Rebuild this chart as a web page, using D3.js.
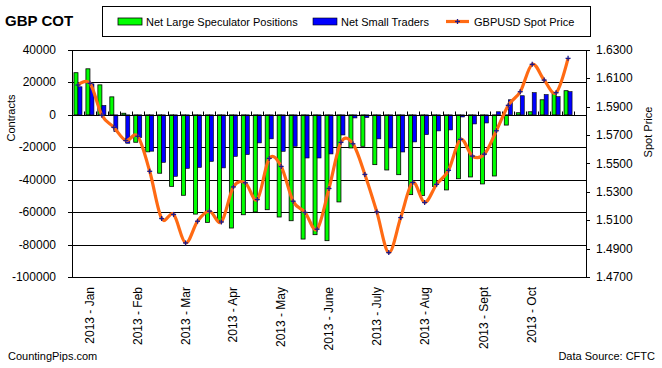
<!DOCTYPE html>
<html><head><meta charset="utf-8">
<script src="https://cdn.jsdelivr.net/npm/d3@7"></script>
<style>
html,body{margin:0;padding:0;background:#fff;}
svg{display:block;font-family:"Liberation Sans",Arial,sans-serif;}
</style></head>
<body><svg id="c" width="662" height="368"></svg>
<script>
const weeks = ["2013-01-01","2013-01-08","2013-01-15","2013-01-22","2013-01-29","2013-02-05","2013-02-12","2013-02-19","2013-02-26",
"2013-03-05","2013-03-12","2013-03-19","2013-03-26","2013-04-02","2013-04-09","2013-04-16","2013-04-23","2013-04-30",
"2013-05-07","2013-05-14","2013-05-21","2013-05-28","2013-06-04","2013-06-11","2013-06-18","2013-06-25","2013-07-02",
"2013-07-09","2013-07-16","2013-07-23","2013-07-30","2013-08-06","2013-08-13","2013-08-20","2013-08-27","2013-09-03",
"2013-09-10","2013-09-17","2013-09-24","2013-10-01","2013-10-08","2013-10-15","2013-10-22"];
const largeSpec = [26000,28400,18500,11100,1000,-16900,-22800,-36000,-44100,-49600,-61200,-66300,-65300,-69800,-61600,-59900,-58500,-63000,-65300,-76600,-73900,-77600,-53700,-20400,-19400,-30700,-34000,-36900,-49200,-49700,-44100,-46300,-39400,-38300,-42600,-37700,-6300,1300,1900,9300,13200,14900,null];
const smallTraders = [17300,19100,5800,-10300,-17500,-14000,-22400,-29300,-37900,-33000,-32400,-28700,-32700,-25600,-24500,-17300,-14800,-22500,-19400,-26600,-26600,-24100,-12400,-1900,-1700,-14800,-20400,-22900,-16700,-12200,-9900,-9300,-1300,-5600,-5000,1900,9300,11800,13700,12500,11200,14300,null];
const spotPrice = [1.6053,1.6065,1.5840,1.5755,1.5662,1.5692,1.5445,1.5112,1.5141,1.4940,1.5093,1.5164,1.5088,1.5335,1.5364,1.5246,1.5536,1.5479,1.5234,1.5155,1.5037,1.5324,1.5649,1.5639,1.5423,1.5159,1.4872,1.5119,1.5366,1.5225,1.5353,1.5452,1.5670,1.5552,1.5566,1.5731,1.5910,1.6006,1.6199,1.6088,1.5999,1.6241,null];
const monthLabels = ["2013 - Jan","2013 - Feb","2013 - Mar","2013 - Apr","2013 - May","2013 - June","2013 - July","2013 - Aug","2013 - Sept","2013 - Oct"];
const monthLabelWeeks = ["2013-01-08","2013-02-05","2013-03-05","2013-04-02","2013-04-30","2013-05-28","2013-06-25","2013-07-23","2013-08-27","2013-09-24"];
const leftTicks = [40000,20000,0,-20000,-40000,-60000,-80000,-100000];
const rightTicks = [1.63,1.61,1.59,1.57,1.55,1.53,1.51,1.49,1.47];

const svg = d3.select("#c");
const L=72,R=586,T=50,B=277;
const x = d3.scaleBand().domain(weeks).range([L,R]).padding(0);
const y = d3.scaleLinear().domain([-100000,40000]).range([B,T]);
const y2 = d3.scaleLinear().domain([1.47,1.63]).range([B,T]);
const bw = x.bandwidth(), barW = bw*0.335;

// gridlines
svg.append("g").selectAll("line").data(leftTicks).join("line")
  .attr("x1",L).attr("x2",R).attr("y1",d=>Math.round(y(d))+0.5).attr("y2",d=>Math.round(y(d))+0.5)
  .attr("stroke","#000").attr("stroke-width",1);

// bars
const gb = svg.append("g");
weeks.forEach((w,i)=>{
  const c = x(w)+bw/2;
  if(largeSpec[i]!=null){
    const v=largeSpec[i];
    gb.append("rect").attr("x",c-barW).attr("width",barW)
      .attr("y",Math.min(y(v),y(0))).attr("height",Math.abs(y(v)-y(0)))
      .attr("fill","#00ff00").attr("stroke","#000").attr("stroke-width",0.8);
  }
  if(smallTraders[i]!=null){
    const v=smallTraders[i];
    gb.append("rect").attr("x",c).attr("width",barW)
      .attr("y",Math.min(y(v),y(0))).attr("height",Math.abs(y(v)-y(0)))
      .attr("fill","#0000ff").attr("stroke","#000").attr("stroke-width",0.6);
  }
});

// zero axis with ticks
const z = Math.round(y(0))+0.5;
svg.append("line").attr("x1",L).attr("x2",R).attr("y1",z).attr("y2",z).attr("stroke","#000");
svg.append("g").selectAll("line").data(weeks.slice(1)).join("line")
  .attr("x1",d=>Math.round(x(d))+0.5).attr("x2",d=>Math.round(x(d))+0.5)
  .attr("y1",z).attr("y2",z-4).attr("stroke","#000");

// frame
svg.append("rect").attr("x",L+0.5).attr("y",T+0.5).attr("width",R-L).attr("height",B-T)
  .attr("fill","none").attr("stroke","#000");

// price line
const pts = weeks.map((w,i)=>[x(w)+bw/2, spotPrice[i]]).filter(d=>d[1]!=null);
svg.append("path").datum(pts)
  .attr("d",d3.line().x(d=>d[0]).y(d=>y2(d[1])).curve(d3.curveCardinal.tension(0)))
  .attr("fill","none").attr("stroke","#ff6a13").attr("stroke-width",3.2).attr("stroke-linejoin","round");
const gm = svg.append("g").attr("stroke","#1a1a8c").attr("stroke-width",1.3);
pts.forEach(d=>{
  const px=d[0], py=y2(d[1]);
  gm.append("line").attr("x1",px-2.5).attr("x2",px+2.5).attr("y1",py).attr("y2",py);
  gm.append("line").attr("x1",px).attr("x2",px).attr("y1",py-2.5).attr("y2",py+2.5);
});

// left axis
const fs=12;
svg.append("g").selectAll("line").data(leftTicks).join("line")
  .attr("x1",L-4).attr("x2",L).attr("y1",d=>Math.round(y(d))+0.5).attr("y2",d=>Math.round(y(d))+0.5).attr("stroke","#000");
svg.append("g").selectAll("text").data(leftTicks).join("text")
  .attr("x",56).attr("y",d=>y(d)+4).attr("text-anchor","end").attr("font-size",fs).text(d=>d);
// right axis
svg.append("g").selectAll("line").data(rightTicks).join("line")
  .attr("x1",R).attr("x2",R+4).attr("y1",d=>Math.round(y2(d))+0.5).attr("y2",d=>Math.round(y2(d))+0.5).attr("stroke","#000");
svg.append("g").selectAll("text").data(rightTicks).join("text")
  .attr("x",596).attr("y",d=>y2(d)+4).attr("font-size",fs).text(d=>d.toFixed(4));

// month labels
svg.append("g").selectAll("text").data(monthLabels).join("text")
  .attr("transform",(d,i)=>`translate(${x(monthLabelWeeks[i])+bw/2+4},287) rotate(-90)`)
  .attr("text-anchor","end").attr("font-size",fs).text(d=>d);

// axis titles
svg.append("text").attr("transform","translate(15,118) rotate(-90)").attr("text-anchor","middle").attr("font-size",11).text("Contracts");
svg.append("text").attr("transform","translate(652,132) rotate(-90)").attr("text-anchor","middle").attr("font-size",11).text("Spot Price");

// title
svg.append("text").attr("x",5).attr("y",26).attr("font-size",15).attr("font-weight","bold").text("GBP COT");

// legend
const lg = svg.append("g");
lg.append("rect").attr("x",102.5).attr("y",6.5).attr("width",488).attr("height",30).attr("fill","#fff").attr("stroke","#000");
const ly=21.5;
lg.append("rect").attr("x",118).attr("y",ly-3.5).attr("width",24).attr("height",7).attr("fill","#00ff00").attr("stroke","#000").attr("stroke-width",0.8);
lg.append("text").attr("x",146).attr("y",ly+4).attr("font-size",11).text("Net Large Speculator Positions");
lg.append("rect").attr("x",313).attr("y",ly-3.5).attr("width",24).attr("height",7).attr("fill","#0000ff").attr("stroke","#000").attr("stroke-width",0.6);
lg.append("text").attr("x",341).attr("y",ly+4).attr("font-size",11).text("Net Small Traders");
lg.append("line").attr("x1",446).attr("x2",469).attr("y1",ly).attr("y2",ly).attr("stroke","#ff6a13").attr("stroke-width",3.2);
lg.append("line").attr("x1",455).attr("x2",460).attr("y1",ly).attr("y2",ly).attr("stroke","#1a1a8c").attr("stroke-width",1.3);
lg.append("line").attr("x1",457.5).attr("x2",457.5).attr("y1",ly-2.5).attr("y2",ly+2.5).attr("stroke","#1a1a8c").attr("stroke-width",1.3);
lg.append("text").attr("x",474).attr("y",ly+4).attr("font-size",11).text("GBPUSD Spot Price");

// footer
svg.append("text").attr("x",8).attr("y",360).attr("font-size",11).text("CountingPips.com");
svg.append("text").attr("x",655).attr("y",360).attr("text-anchor","end").attr("font-size",11).text("Data Source: CFTC");
</script></body></html>
